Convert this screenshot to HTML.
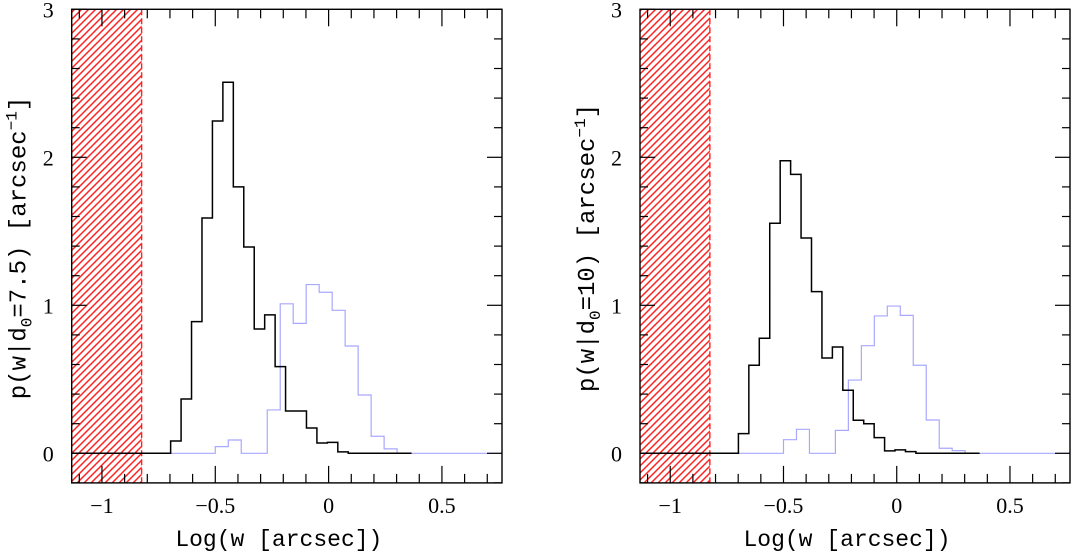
<!DOCTYPE html>
<html><head><meta charset="utf-8"><style>
html,body{margin:0;padding:0;background:#fff;}
svg{display:block;}
text{fill:#000;}
</style></head><body>
<svg id="chart" width="1071" height="553" viewBox="0 0 1071 553" xmlns="http://www.w3.org/2000/svg">
<defs>
<pattern id="hatch" patternUnits="userSpaceOnUse" width="7" height="7">
<path d="M0,7 L7,0 M-1,1 L1,-1 M6,8 L8,6" stroke="#ff2020" stroke-width="1.5" fill="none"/>
</pattern>
</defs>
</svg>
<script>
// ---- data ----
const xTicksMajor = [-1, -0.5, 0, 0.5];
const xTickLabels = ["\u22121", "\u22120.5", "0", "0.5"];
const yTicksMajor = [0, 1, 2, 3];
const yTickLabels = ["0", "1", "2", "3"];
const excludedMax = -0.825;

const blackStartL = -0.697, blackWidthL = 0.0461;
const blackValsL = [0.083,0.367,0.89,1.59,2.245,2.507,1.80,1.394,0.84,0.935,0.586,0.286,0.286,0.171,0.07,0.074,0.01];
const blueStartL = -0.5, blueWidthL = 0.0573;
const blueValsL = [0.045,0.09,0,0,0.293,1.01,0.878,1.14,1.088,0.966,0.725,0.394,0.115,0.03];

const blackStartR = -0.699, blackWidthR = 0.0461;
const blackValsR = [0.133,0.595,0.777,1.554,1.977,1.885,1.455,1.092,0.644,0.718,0.426,0.223,0.2,0.106,0.016,0.023,0.011];
const blueStartR = -0.5, blueWidthR = 0.0573;
const blueValsR = [0.092,0.162,0,0,0.155,0.495,0.727,0.928,0.995,0.932,0.595,0.225,0.034,0.018];

const blackEnd = 0.366;
const xMin = -1.1335, xMax = 0.765, yMin = -0.2, yMax = 3.0;

const svg = document.getElementById('chart');
const NS = 'http://www.w3.org/2000/svg';
function mk(tag, attrs, parent){const e=document.createElementNS(NS,tag);for(const k in attrs)e.setAttribute(k,attrs[k]);(parent||svg).appendChild(e);return e;}

function panel(name, left, right, yLabelVal, bS, bW, bV, uS, uW, uV){
  const top = 9.3, bottom = 482.9;
  const X = v => left + (v - xMin) / (xMax - xMin) * (right - left);
  const Y = v => bottom - (v - yMin) / (yMax - yMin) * (bottom - top);
  const g = mk('g', {});
  
  
  const hr = mk('rect', {x:left, y:top, width:X(excludedMax)-left, height:bottom-top, fill:'url(#hatch)'}, g);
  
  
  const hl = mk('line', {x1:X(excludedMax), y1:top, x2:X(excludedMax), y2:bottom, stroke:'#ff2020', 'stroke-width':1.4, 'stroke-dasharray':'6,3'}, g);
  
  
  function histPath(start, w, vals, x0, x1){
    let d = 'M' + X(x0) + ',' + Y(0) + ' L' + X(start) + ',' + Y(0);
    vals.forEach((v,i)=>{const a=start+i*w,b=a+w; d+=' L'+X(a)+','+Y(v)+' L'+X(b)+','+Y(v);});
    const endx = start + vals.length*w;
    d += ' L' + X(endx) + ',' + Y(0) + ' L' + X(x1) + ',' + Y(0);
    return d;
  }
  const bp = mk('path', {d:histPath(uS,uW,uV,bS,xMax), fill:'none', stroke:'#a8a8ff', 'stroke-width':1.2}, g);
  
  
  const kp = mk('path', {d:histPath(bS,bW,bV,xMin,blackEnd), fill:'none', stroke:'#000', 'stroke-width':1.5}, g);
  
  
  const fr = mk('rect', {x:left, y:top, width:right-left, height:bottom-top, fill:'none', stroke:'#000', 'stroke-width':1.4}, g);
  
  
  for (let i=-11;i<=7;i++){
    const v=i/10; if(v<xMin||v>xMax) continue;
    const major = (i%5===0); const L = major?17:9;
    mk('line',{x1:X(v),y1:bottom,x2:X(v),y2:bottom-L,stroke:'#000','stroke-width':1.2},g);
    mk('line',{x1:X(v),y1:top,x2:X(v),y2:top+L,stroke:'#000','stroke-width':1.2},g);
  }
  xTicksMajor.forEach((v,i)=>{
    const t = mk('text',{x:X(v),y:bottom+30,'text-anchor':'middle','font-family':'Liberation Serif, serif','font-size':22},g);
    t.textContent = xTickLabels[i];
    
    
  });
  for (let i=-1;i<=15;i++){
    const v=i/5; if(v<yMin||v>yMax) continue;
    const major = (i%5===0); const L = major?15:8;
    mk('line',{x1:left,y1:Y(v),x2:left+L,y2:Y(v),stroke:'#000','stroke-width':1.2},g);
    mk('line',{x1:right,y1:Y(v),x2:right-L,y2:Y(v),stroke:'#000','stroke-width':1.2},g);
  }
  yTicksMajor.forEach((v,i)=>{
    const t = mk('text',{x:left-18,y:Y(v)+8,'text-anchor':'end','font-family':'Liberation Serif, serif','font-size':22},g);
    t.textContent = yTickLabels[i];
    
    
  });
  const xl = mk('text',{x:(left+right)/2-8,y:546,'text-anchor':'middle','font-family':'Liberation Mono, monospace','font-size':23},g);
  xl.textContent = 'Log(w [arcsec])';
  
  
  const yl = mk('text',{x:0,y:0,'text-anchor':'middle','font-family':'Liberation Mono, monospace','font-size':24,transform:'translate('+(left-46)+',248) rotate(-90)'},g);
  yl.innerHTML = 'p(w|d<tspan font-size="16" dy="6">0</tspan><tspan dy="-6">=' + yLabelVal + ') [arcsec</tspan><tspan font-size="16" dy="-9">\u22121</tspan><tspan dy="9">]</tspan>';
  
  
}
panel('left-panel', 71.7, 502, '7.5', blackStartL, blackWidthL, blackValsL, blueStartL, blueWidthL, blueValsL);
panel('right-panel', 640, 1070, '10', blackStartR, blackWidthR, blackValsR, blueStartR, blueWidthR, blueValsR);
</script>
</body></html>
